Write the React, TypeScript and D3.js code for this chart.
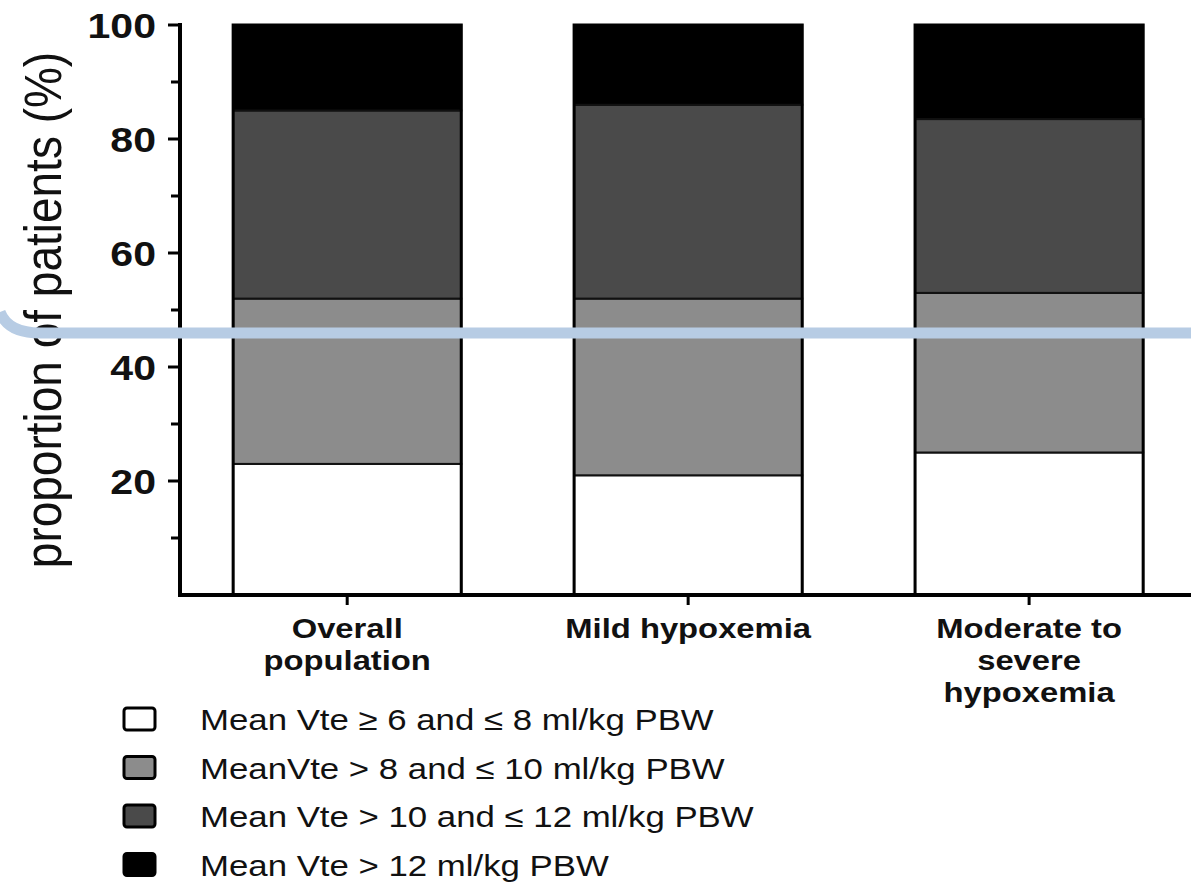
import React from "react";
import * as d3 from "d3";

// Groups on the x axis (lines of each label)
const categories = ["Overall population", "Mild hypoxemia", "Moderate to severe hypoxemia"];
const categoryLines = [["Overall", "population"], ["Mild hypoxemia"], ["Moderate to", "severe", "hypoxemia"]];

// Tidal volume classes, bottom to top of each stack
const seriesNames = [
  "Mean Vte \u2265 6 and \u2264 8 ml/kg PBW",
  "MeanVte > 8 and \u2264 10 ml/kg PBW",
  "Mean Vte > 10 and \u2264 12 ml/kg PBW",
  "Mean Vte > 12 ml/kg PBW",
];
const seriesColors = ["#ffffff", "#8c8c8c", "#4a4a4a", "#000000"];

// Proportion of patients (%) per class, per group
const vte6to8 = [23, 21, 25];
const vte8to10 = [29, 31, 28];
const vte10to12 = [33, 34, 30.5];
const vteOver12 = [15, 14, 16.5];

const yTicks = [20, 40, 60, 80, 100];
const yMinorTicks = [10, 30, 50, 70, 90];

const W = 1191;
const H = 883;
const axisX = 180;
const FONT = "'Liberation Sans', Arial, Helvetica, sans-serif";

type TProps = {
  x: number;
  y: number;
  size: number;
  stretch: number;
  bold?: boolean;
  anchor?: "start" | "middle" | "end";
  children: React.ReactNode;
};

// Text drawn slightly wide, scaled about its anchor point
function Label({ x, y, size, stretch, bold, anchor = "start", children }: TProps) {
  return (
    <text
      transform={`translate(${x},${y}) scale(${stretch},1)`}
      textAnchor={anchor}
      fontSize={size}
      fontWeight={bold ? "bold" : "normal"}
      fill="#111"
    >
      {children}
    </text>
  );
}

export default function App() {
  const y = d3.scaleLinear().domain([0, 100]).range([595, 25]);
  const x = d3
    .scaleBand<string>()
    .domain(categories)
    .range([182, 1194.3])
    .paddingInner(0.331)
    .paddingOuter(0.15);

  const rows = categories.map((c, i) => ({
    cat: c,
    s0: vte6to8[i],
    s1: vte8to10[i],
    s2: vte10to12[i],
    s3: vteOver12[i],
  }));
  const layers = d3.stack<any>().keys(["s0", "s1", "s2", "s3"])(rows);

  return (
    <svg
      width={W}
      height={H}
      style={{ position: "absolute", left: 0, top: 0, background: "#fff", fontFamily: FONT }}
    >
      {/* stacked bars */}
      {layers.map((layer, li) =>
        layer.map((d, i) => (
          <rect
            key={`${li}-${i}`}
            x={x(categories[i])}
            y={y(d[1])}
            width={x.bandwidth()}
            height={y(d[0]) - y(d[1])}
            fill={seriesColors[li]}
            stroke="#111"
            strokeWidth={2}
          />
        ))
      )}
      {categories.map((c) => (
        <rect
          key={c}
          x={x(c)}
          y={y(100)}
          width={x.bandwidth()}
          height={y(0) - y(100)}
          fill="none"
          stroke="#000"
          strokeWidth={3}
        />
      ))}

      {/* y axis */}
      <line x1={axisX} x2={axisX} y1={y(100) - 2} y2={y(0) + 2} stroke="#000" strokeWidth={4} />
      {yTicks.map((t) => (
        <g key={t}>
          <line x1={axisX - 12} x2={axisX} y1={y(t)} y2={y(t)} stroke="#000" strokeWidth={3} />
          <Label x={axisX - 24} y={y(t) + 13} size={36} stretch={1.14} bold anchor="end">
            {t}
          </Label>
        </g>
      ))}
      {yMinorTicks.map((t) => (
        <line key={t} x1={axisX - 9} x2={axisX} y1={y(t)} y2={y(t)} stroke="#000" strokeWidth={3} />
      ))}
      <text
        transform={`translate(61,${(y(0) + y(100)) / 2}) scale(1.14,1) rotate(-90)`}
        textAnchor="middle"
        fontSize={46}
        fill="#111"
      >
        proportion of patients (%)
      </text>

      {/* x axis */}
      <line x1={axisX - 2} x2={W} y1={y(0)} y2={y(0)} stroke="#000" strokeWidth={4} />
      {categories.map((c, i) => {
        const cx = x(c)! + x.bandwidth() / 2;
        return (
          <g key={c}>
            <line x1={cx} x2={cx} y1={y(0)} y2={y(0) + 10} stroke="#000" strokeWidth={3} />
            {categoryLines[i].map((ln, j) => (
              <Label key={j} x={cx} y={638 + j * 32} size={28} stretch={1.17} bold anchor="middle">
                {ln}
              </Label>
            ))}
          </g>
        );
      })}

      {/* legend */}
      {seriesNames.map((n, i) => {
        const cy = 719 + i * 48.5;
        return (
          <g key={n}>
            <rect
              x={124}
              y={cy - 11}
              width={31}
              height={22}
              rx={3}
              fill={seriesColors[i]}
              stroke="#000"
              strokeWidth={3}
            />
            <Label x={200} y={cy + 11} size={30} stretch={1.16}>
              {n}
            </Label>
          </g>
        );
      })}

      {/* highlight band across the chart */}
      <path d={`M 0 312 Q 8 333 40 333 L ${W} 333`} fill="none" stroke="#b7cce4" strokeWidth={11} />
    </svg>
  );
}
